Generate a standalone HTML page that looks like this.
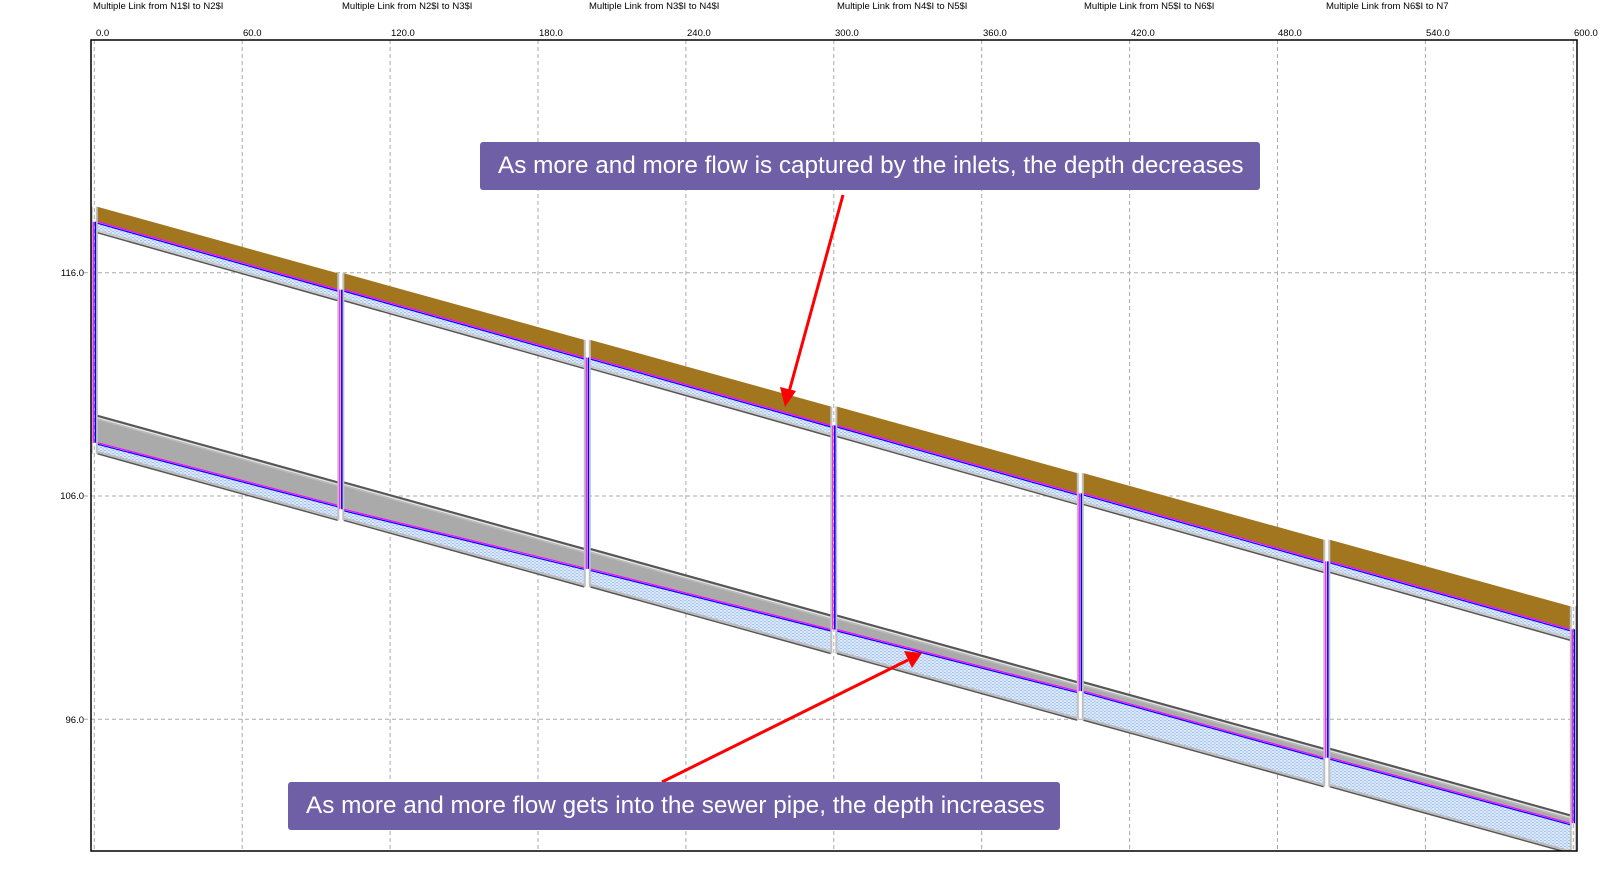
<!DOCTYPE html>
<html><head><meta charset="utf-8"><style>
html,body{margin:0;padding:0;background:#fff;width:1606px;height:882px;overflow:hidden}
svg{position:absolute;left:0;top:0}
.t{font-family:"Liberation Sans",sans-serif;font-size:9.5px;fill:#000}
.box{position:absolute;background:#6f5fa6;color:#fff;border-radius:3px;font-family:"Liberation Sans",sans-serif;font-size:24.3px;line-height:48px;padding-left:18px;box-sizing:border-box;white-space:nowrap}
</style></head><body>
<svg id="s" width="1606" height="882" xmlns="http://www.w3.org/2000/svg">
<defs>
<pattern id="h" width="4" height="3" patternUnits="userSpaceOnUse">
<rect width="4" height="3" fill="#dde9f8"/><rect x="0" y="0" width="2" height="1" fill="#9fc2ee"/><rect x="2" y="1.5" width="2" height="1" fill="#9fc2ee"/>
</pattern>
<clipPath id="c"><rect x="91" y="40" width="1486" height="811"/></clipPath>
</defs>
<g id="grid" stroke="#aaa" stroke-width="1" stroke-dasharray="4,3"></g>
<g id="shapes" clip-path="url(#c)"></g>
<rect x="91" y="40" width="1486" height="811" fill="none" stroke="#000" stroke-width="1.5"/>
<text class="t" x="93" y="9">Multiple Link from N1$I to N2$I</text>
<text class="t" x="342" y="9">Multiple Link from N2$I to N3$I</text>
<text class="t" x="589" y="9">Multiple Link from N3$I to N4$I</text>
<text class="t" x="837" y="9">Multiple Link from N4$I to N5$I</text>
<text class="t" x="1084" y="9">Multiple Link from N5$I to N6$I</text>
<text class="t" x="1326" y="9">Multiple Link from N6$I to N7</text>
<text class="t" x="96" y="36">0.0</text>
<text class="t" x="243" y="36">60.0</text>
<text class="t" x="391" y="36">120.0</text>
<text class="t" x="539" y="36">180.0</text>
<text class="t" x="687" y="36">240.0</text>
<text class="t" x="835" y="36">300.0</text>
<text class="t" x="983" y="36">360.0</text>
<text class="t" x="1131" y="36">420.0</text>
<text class="t" x="1278" y="36">480.0</text>
<text class="t" x="1426" y="36">540.0</text>
<text class="t" x="1574" y="36">600.0</text>
<text class="t" x="84" y="276" text-anchor="end">116.0</text>
<text class="t" x="84" y="499" text-anchor="end">106.0</text>
<text class="t" x="84" y="723" text-anchor="end">96.0</text>
<g stroke="#f00" stroke-width="3" fill="#f00">
<line x1="843" y1="195" x2="789" y2="392"/>
<polygon points="785,407 780,387 796,391" stroke="none"/>
<line x1="662" y1="782" x2="908" y2="660"/>
<polygon points="922,653 904,651 912,668" stroke="none"/>
</g>
</svg>
<div class="box" style="left:480px;top:142px;width:780px;height:48px">As more and more flow is captured by the inlets, the depth decreases</div>
<div class="box" style="left:288px;top:782px;width:772px;height:48px">As more and more flow gets into the sewer pipe, the depth increases</div>
<script>
var NS="http://www.w3.org/2000/svg";
function el(p,n,a){var e=document.createElementNS(NS,n);for(var k in a)e.setAttribute(k,a[k]);p.appendChild(e);return e;}
var g=document.getElementById('grid'),sh=document.getElementById('shapes');
for(var k=0;k<=10;k++){var x=94.3+147.9*k;el(g,'line',{x1:x,y1:40,x2:x,y2:852});}
[272.7,496,719.3].forEach(function(y){el(g,'line',{x1:84,y1:y,x2:1577,y2:y});});
function X(i){return 94.3+246.5*i}
function G(i){return 206.7+66.6*i}
function U(i){return G(i)+15+1.33*i}
function C(i){return 415.7+66.6*i}
var s=[27,27,20,14,9,9],e=[23,19,14,9,9,8];
function poly(pts,f){el(sh,'polygon',{points:pts.map(function(p){return p.join(',')}).join(' '),fill:f});}
function ln(x1,y1,x2,y2,c,w){el(sh,'line',{x1:x1,y1:y1,x2:x2,y2:y2,stroke:c,'stroke-width':w||1});}
for(var k=0;k<6;k++){
 var x1=X(k)+3,x2=X(k+1)-3,a=U(k),b=U(k+1);
 poly([[x1,G(k)],[x2,G(k+1)],[x2,b],[x1,a]],'#a2761f');
 poly([[x1,a],[x2,b],[x2,b+10],[x1,a+10]],'url(#h)');
 ln(x1,a+9,x2,b+9,'#c8c8c8',2);ln(x1,a+11,x2,b+11,'#555',1.5);
 ln(x1,a+1.5,x2,b+1.5,'#00f',1.2);ln(x1,a,x2,b,'#f0f',1.2);
 var c1=C(k),c2=C(k+1),w1=c1+s[k],w2=c2+e[k];
 poly([[x1,c1],[x2,c2],[x2,w2],[x1,w1]],'#aaa');
 poly([[x1,w1],[x2,w2],[x2,c2+37],[x1,c1+37]],'url(#h)');
 ln(x1,c1,x2,c2,'#555',2);ln(x1,c1+2,x2,c2+2,'#eee',1);ln(x1,c1+3.5,x2,c2+3.5,'#bbb',1.5);
 ln(x1,w1+1.5,x2,w2+1.5,'#00f',1.2);ln(x1,w1,x2,w2,'#f0f',1.2);
 ln(x1,c1+36,x2,c2+36,'#bbb',2);ln(x1,c1+38,x2,c2+38,'#555',1.5);
}
for(var i=0;i<7;i++){
 var x=X(i),wi=C(i)+(i<6?s[i]:e[5]);
 ln(x-2.5,G(i),x-2.5,C(i)+38,'#c0c0c0',2);ln(x+2.5,G(i),x+2.5,C(i)+38,'#c0c0c0',2);
 ln(x+1,U(i),x+1,wi,'#00f',1.5);ln(x-1,U(i),x-1,wi,'#f0f',1.2);
}
</script>
</body></html>
